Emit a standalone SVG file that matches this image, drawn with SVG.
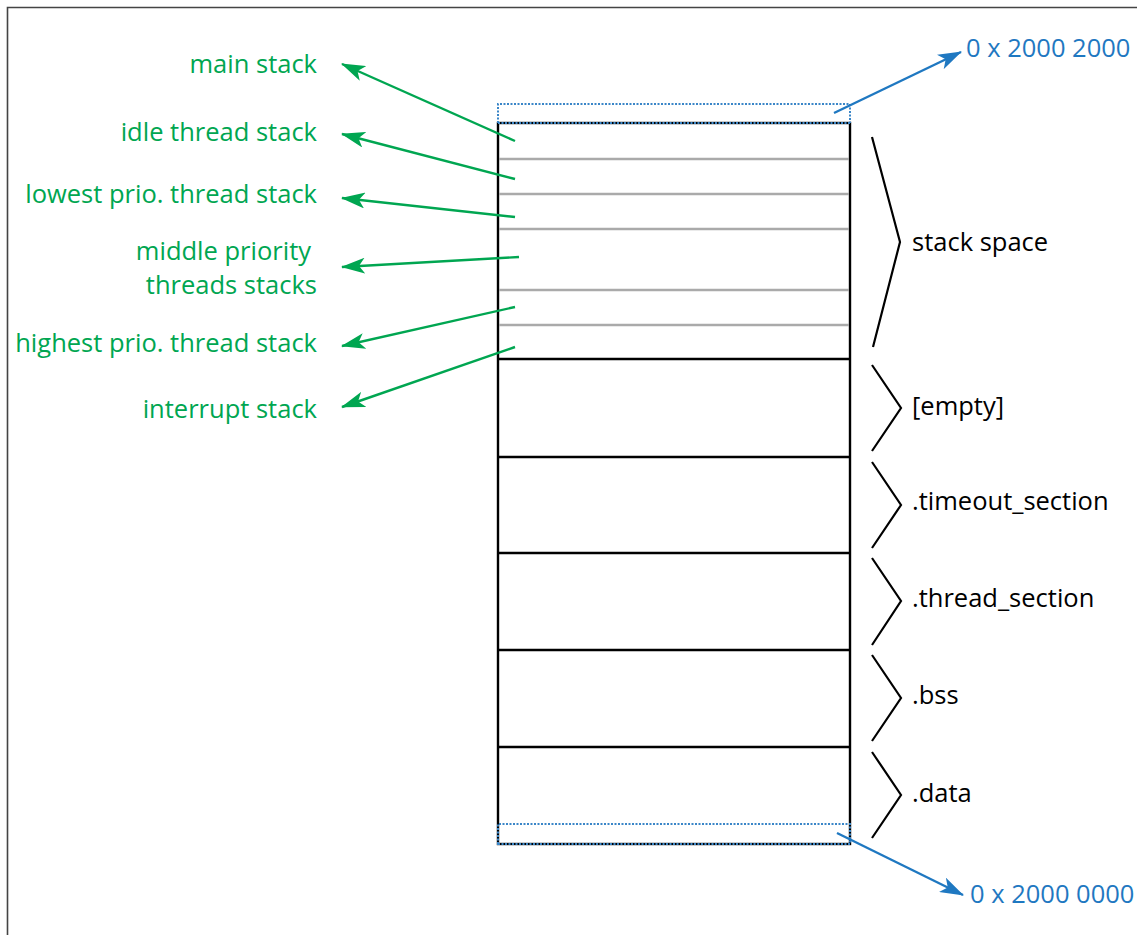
<svg xmlns="http://www.w3.org/2000/svg" width="1137" height="935" viewBox="0 0 1137 935">
<defs>
<style>
.g{fill:#00a651;font-family:"Open Sans","Noto Sans",sans-serif;font-size:25.5px;text-anchor:end}
.k{fill:#000;font-family:"Open Sans","Noto Sans",sans-serif;font-size:25.5px}
.b{fill:#1f78c1;font-family:"Open Sans","Noto Sans",sans-serif;font-size:25.5px}
.ga{stroke:#00a651;stroke-width:2.4;fill:none;marker-end:url(#mg)}
.ba{stroke:#1f78c1;stroke-width:2.4;fill:none;marker-end:url(#mb)}
.sep{stroke:#000;stroke-width:2.4}
.thin{stroke:#aaaaaa;stroke-width:2.5}
.br{stroke:#000;stroke-width:2.2;fill:none}
.dot{stroke:#3a86c8;stroke-width:2;stroke-dasharray:2 1.5;fill:none}
</style>
<marker id="mg" viewBox="0 0 24 16" refX="23" refY="8" markerWidth="24" markerHeight="16" markerUnits="userSpaceOnUse" orient="auto">
<path d="M0,0 L24,8 L0,16 L6,8 Z" fill="#00a651"/>
</marker>
<marker id="mb" viewBox="0 0 24 16" refX="23" refY="8" markerWidth="24" markerHeight="16" markerUnits="userSpaceOnUse" orient="auto">
<path d="M0,0 L24,8 L0,16 L6,8 Z" fill="#1f78c1"/>
</marker>
</defs>
<rect width="1137" height="935" fill="#fff"/>
<path d="M7.5,935 V7.5 H1137" stroke="#444" stroke-width="1.6" fill="none"/>

<g id="memory">
<rect x="498" y="123" width="352" height="721" fill="none" stroke="#000" stroke-width="2.4"/>
<line class="thin" x1="499" y1="159" x2="849" y2="159"/>
<line class="thin" x1="499" y1="194" x2="849" y2="194"/>
<line class="thin" x1="499" y1="229" x2="849" y2="229"/>
<line class="thin" x1="499" y1="290" x2="849" y2="290"/>
<line class="thin" x1="499" y1="325" x2="849" y2="325"/>
<line class="sep" x1="498" y1="359" x2="850" y2="359"/>
<line class="sep" x1="498" y1="457" x2="850" y2="457"/>
<line class="sep" x1="498" y1="553" x2="850" y2="553"/>
<line class="sep" x1="498" y1="650" x2="850" y2="650"/>
<line class="sep" x1="498" y1="747" x2="850" y2="747"/>
<path class="dot" d="M498,123 V104 H850 V123"/>
<path class="dot" d="M498,123 H850"/>
<path class="dot" d="M498,844 V824 H850 V844 Z"/>
</g>

<g id="labels-left">
<text class="g" x="317" y="73">main stack</text>
<text class="g" x="317" y="141">idle thread stack</text>
<text class="g" x="317" y="203">lowest prio. thread stack</text>
<text class="g" x="311" y="260">middle priority</text>
<text class="g" x="317" y="294">threads stacks</text>
<text class="g" x="317" y="352">highest prio. thread stack</text>
<text class="g" x="317" y="418">interrupt stack</text>
</g>

<g id="labels-right">
<text class="k" x="912" y="251">stack space</text>
<text class="k" x="912" y="415">[empty]</text>
<text class="k" x="912" y="510">.timeout_section</text>
<text class="k" x="912" y="607">.thread_section</text>
<text class="k" x="912" y="704">.bss</text>
<text class="k" x="912" y="802">.data</text>
</g>

<g id="addresses">
<text class="b" x="966" y="57">0 x 2000 2000</text>
<text class="b" x="970" y="903">0 x 2000 0000</text>
</g>

<g id="braces">
<path class="br" d="M872,137 L900,242 L873,347"/>
<path class="br" d="M872,365 L901,408 L872,451"/>
<path class="br" d="M872,462 L901,505 L872,548"/>
<path class="br" d="M872,558 L901,601 L872,645"/>
<path class="br" d="M872,655 L901,698 L872,741"/>
<path class="br" d="M872,752 L901,795 L872,838"/>
</g>

<g id="connectors">
<line class="ga" x1="515" y1="141" x2="342" y2="64"/>
<line class="ga" x1="515" y1="179" x2="342" y2="134"/>
<line class="ga" x1="515" y1="217" x2="342" y2="198"/>
<line class="ga" x1="519" y1="257" x2="342" y2="267"/>
<line class="ga" x1="515" y1="307" x2="342" y2="346"/>
<line class="ga" x1="515" y1="347" x2="342" y2="407"/>
<line class="ba" x1="834" y1="113" x2="961" y2="52"/>
<line class="ba" x1="837" y1="833" x2="963" y2="895"/>
</g>
</svg>
